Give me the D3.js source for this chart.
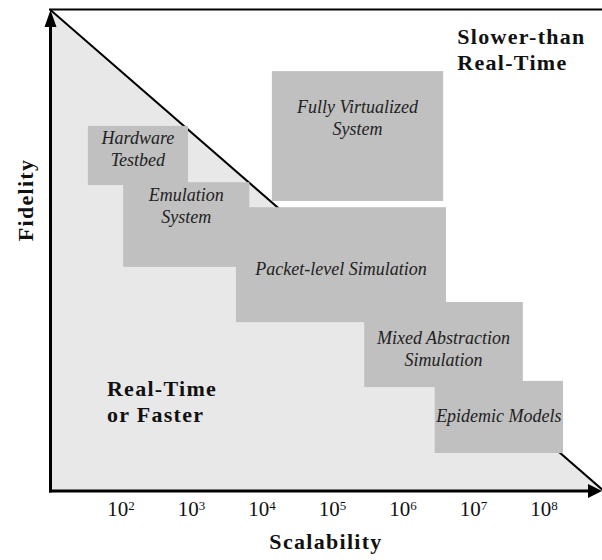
<!DOCTYPE html>
<html>
<head>
<meta charset="utf-8">
<script src="https://cdn.jsdelivr.net/npm/d3@7"></script>
<style>
  html, body { margin: 0; padding: 0; background: #ffffff; }
  svg { display: block; }
</style>
</head>
<body>
<svg id="chart" width="602" height="560"></svg>
<script>
// ---- data ----
// tick exponents of the scalability axis (10^n)
const tickExponents = [2, 3, 4, 5, 6, 7, 8];
// system categories
const categories = ["Hardware Testbed", "Emulation System", "Packet-level Simulation",
                    "Fully Virtualized System", "Mixed Abstraction Simulation", "Epidemic Models"];
// label lines for each category
const labelLines = [["Hardware", "Testbed"], ["Emulation", "System"], ["Packet-level Simulation"],
                    ["Fully Virtualized", "System"], ["Mixed Abstraction", "Simulation"], ["Epidemic Models"]];
// scalability range (log10 of size) for each category
const scaleLow  = [1.53, 2.03, 3.63, 4.14, 5.45, 6.45];
const scaleHigh = [2.95, 3.82, 6.61, 6.57, 7.70, 8.27];
// fidelity range (relative units 0..100) for each category
const fidLow  = [63.6, 46.6, 35.1, 60.3, 21.6, 7.9];
const fidHigh = [75.9, 64.2, 59.0, 87.3, 39.3, 22.9];
// real-time boundary (scalability exponent, fidelity)
const boundaryX = [1, 8.85];
const boundaryY = [100, 0];
// region labels
const regionLabels = [["Real-Time", "or Faster"], ["Slower-than", "Real-Time"]];
const regionX = [1.8, 6.77];
const regionY = [19.8, 92.9];

const FONT = '"Liberation Serif"';

// ---- scales ----
const svg = d3.select("#chart");
const x = d3.scaleLinear().domain([1, 8.823]).range([50.5, 602]);
const y = d3.scaleLinear().domain([0, 100]).range([491, 10]);

const boundary = boundaryX.map((d, i) => [d, boundaryY[i]]);

// light region under the boundary
svg.append("path")
  .attr("d", d3.line()([[x(1), y(100)], [x(boundaryX[1]), y(0)], [x(1), y(0)]]) + "Z")
  .attr("fill", "#e8e8e8");

// boundary line (drawn beneath the boxes)
svg.append("path")
  .attr("d", d3.line().x(d => x(d[0])).y(d => y(d[1]))(boundary))
  .attr("stroke", "#000").attr("stroke-width", 2).attr("fill", "none");

// boxes
const boxes = categories.map((c, i) => ({
  name: c, lines: labelLines[i], x0: scaleLow[i], x1: scaleHigh[i], y0: fidLow[i], y1: fidHigh[i]
}));
svg.append("g").selectAll("rect").data(boxes).join("rect")
  .attr("x", d => x(d.x0)).attr("y", d => y(d.y1))
  .attr("width", d => x(d.x1) - x(d.x0)).attr("height", d => y(d.y0) - y(d.y1))
  .attr("fill", "#c0c0c0");

// top frame line
svg.append("line").attr("x1", 49).attr("x2", 602).attr("y1", 9.5).attr("y2", 9.5)
  .attr("stroke", "#000").attr("stroke-width", 2);

// axes
svg.append("line").attr("x1", x(1)).attr("x2", x(1)).attr("y1", y(0) + 1.5).attr("y2", 22)
  .attr("stroke", "#000").attr("stroke-width", 3);
svg.append("line").attr("x1", x(1) - 1.5).attr("x2", 592).attr("y1", y(0)).attr("y2", y(0))
  .attr("stroke", "#000").attr("stroke-width", 3);
// arrowheads
svg.append("path").attr("d", `M${x(1)},${y(100)} L${x(1) - 6},${y(100) + 17} L${x(1) + 6},${y(100) + 17} Z`)
  .attr("fill", "#000");
svg.append("path").attr("d", `M602,${y(0)} L588,${y(0) - 7} L588,${y(0) + 7} Z`)
  .attr("fill", "#000");

// box labels
const lineH = 22;
const labelBase = [144, 201, 275, 113, 344, 422];
const labels = svg.append("g").selectAll("text").data(boxes).join("text")
  .attr("text-anchor", "middle")
  .style("font-family", FONT)
  .style("font-style", "italic")
  .style("font-size", "18px")
  .attr("fill", "#222")
  .attr("transform", d => `translate(${(x(d.x0) + x(d.x1)) / 2},0)`);
labels.each(function(d, i) {
  const t = d3.select(this);
  d.lines.forEach((l, j) => {
    t.append("tspan").attr("x", 0).attr("y", labelBase[i] + j * lineH).text(l);
  });
});

// region labels
regionLabels.forEach((lines, i) => {
  const t = svg.append("text").style("font-family", FONT)
    .style("font-weight", "bold").style("font-size", "22px")
    .style("letter-spacing", "1.3px").attr("fill", "#111");
  lines.forEach((l, j) => {
    t.append("tspan").attr("x", x(regionX[i])).attr("y", y(regionY[i]) + j * 26).text(l);
  });
});

// x tick labels
svg.append("g").selectAll("text").data(tickExponents).join("text")
  .attr("x", d => x(d)).attr("y", 516)
  .attr("text-anchor", "middle")
  .style("font-family", FONT)
  .style("font-size", "21px")
  .attr("fill", "#111")
  .each(function(d) {
    const t = d3.select(this);
    t.append("tspan").text("10");
    t.append("tspan").style("font-size", "13px").attr("dy", -6).text(d);
  });

// axis titles
svg.append("text").attr("x", 326).attr("y", 549).attr("text-anchor", "middle")
  .style("font-family", FONT).style("letter-spacing", "1.3px")
  .style("font-weight", "bold").style("font-size", "22px").attr("fill", "#111").text("Scalability");
svg.append("text").attr("transform", "translate(33,200) rotate(-90)").attr("text-anchor", "middle")
  .style("font-family", FONT).style("letter-spacing", "1.3px")
  .style("font-weight", "bold").style("font-size", "22px").attr("fill", "#111").text("Fidelity");
</script>
</body>
</html>
